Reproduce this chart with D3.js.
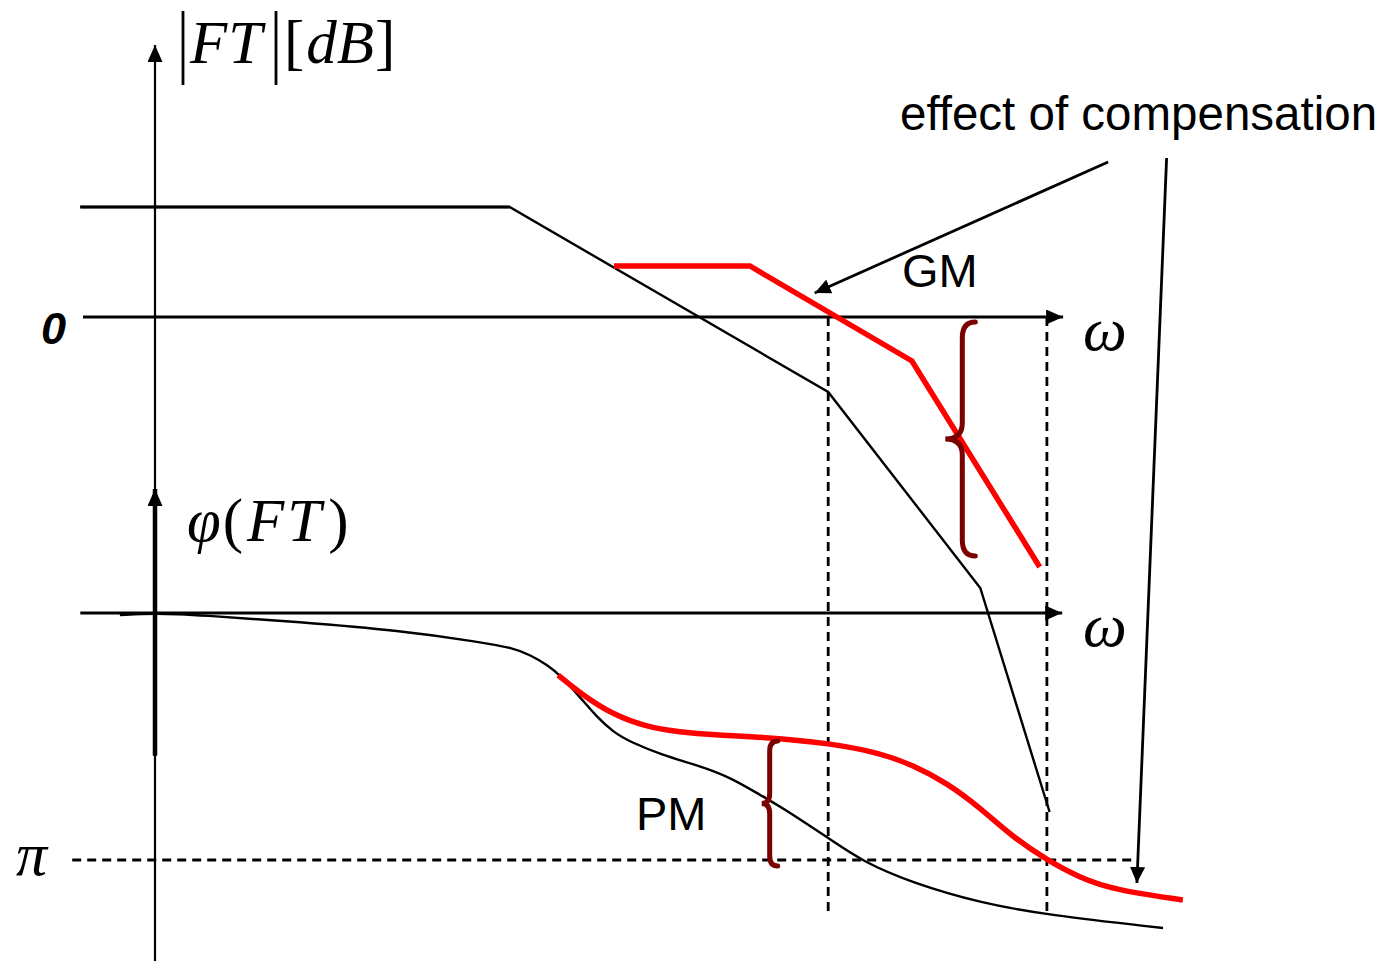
<!DOCTYPE html>
<html>
<head>
<meta charset="utf-8">
<script src="https://cdn.jsdelivr.net/npm/d3@7"></script>
<style>
  body { margin: 0; background: #fff; }
  svg { display: block; }
</style>
</head>
<body>
<div class="bode"></div>
<script>
// --- data (omega in arbitrary frequency units, magnitude in dB, phase in degrees) ---
var magOmega = [-8.3, 39.4, 74.8, 91.7, 99.4];
var magDb    = [11, 11, -7.5, -27.1, -49.5];

var compMagOmega = [51.0, 66.1, 84.1, 98.3];
var compMagDb    = [5.1, 5.1, -4.4, -25.0];

var phaseOmega = [-3.9, 0, 5, 16.1, 27.2, 36.1, 39.8, 41.7, 43.6, 45.0, 47.2, 49.1, 50.9, 52.8, 56.4, 60.2, 63.9, 67.6, 69.4, 74.8, 78.7, 84.2, 91.7, 99.1, 112];
var phaseDeg   = [-1.5, 0, -1.5, -6.6, -12.8, -21.1, -25.5, -30.6, -37.9, -45.2, -61.2, -75.8, -86.7, -94.0, -103.5, -110.8, -119.5, -134.1, -140.6, -163.9, -181.5, -196.8, -211.3, -220.1, -229.6];

var compPhaseOmega = [44.8, 47.2, 50.9, 54.7, 58.3, 62.0, 67.6, 74.8, 80.6, 84.2, 88.0, 91.7, 95.3, 99.1, 102.8, 106.6, 114.2];
var compPhaseDeg   = [-45.2, -58.3, -74.3, -83.1, -86.7, -88.9, -90.4, -94.7, -102.0, -110.8, -123.9, -142.1, -163.2, -180, -193.1, -201.8, -209.1];

var crossoverOmega = 74.8;   // gain crossover (|FT| = 0 dB)
var phaseCrossOmega = 99.1;  // phase crossover (phase = -180)

// --- layout ---
var width = 1395, height = 961;
var svg = d3.select(".bode").append("svg")
    .attr("width", width)
    .attr("height", height);

var x = d3.scaleLinear().domain([0, 100]).range([155, 1055]);
var yMag = d3.scaleLinear().domain([0, -10]).range([317, 417]);
var yPh = d3.scaleLinear().domain([0, -180]).range([613, 860]);

var darkRed = "#7b0000";

// arrow markers
var defs = svg.append("defs");
function marker(id, len, wid) {
  defs.append("marker")
      .attr("id", id)
      .attr("markerUnits", "userSpaceOnUse")
      .attr("viewBox", "0 0 " + len + " " + wid)
      .attr("refX", len).attr("refY", wid / 2)
      .attr("markerWidth", len).attr("markerHeight", wid)
      .attr("orient", "auto")
    .append("path")
      .attr("d", "M0,0L" + len + "," + (wid / 2) + "L0," + wid + "Z")
      .attr("fill", "#000");
}
marker("axisArrow", 17, 15);
marker("noteArrow", 16, 15);

// --- axes ---
// magnitude vertical axis (thin, runs the full height)
svg.append("line")
    .attr("x1", x(0)).attr("x2", x(0))
    .attr("y1", height).attr("y2", 45)
    .attr("stroke", "#000").attr("stroke-width", 2.2)
    .attr("marker-end", "url(#axisArrow)");
// phase vertical axis (thicker)
svg.append("line")
    .attr("x1", x(0)).attr("x2", x(0))
    .attr("y1", yPh(-104)).attr("y2", 489)
    .attr("stroke", "#000").attr("stroke-width", 4.5)
    .attr("marker-end", "url(#axisArrow)");

// 0 dB axis
svg.append("line")
    .attr("x1", x(-8)).attr("x2", x(100.9))
    .attr("y1", yMag(0)).attr("y2", yMag(0))
    .attr("stroke", "#000").attr("stroke-width", 2.8)
    .attr("marker-end", "url(#axisArrow)");
// phase 0 axis
svg.append("line")
    .attr("x1", x(-8.3)).attr("x2", x(100.8))
    .attr("y1", yPh(0)).attr("y2", yPh(0))
    .attr("stroke", "#000").attr("stroke-width", 2.8)
    .attr("marker-end", "url(#axisArrow)");

// dashed guides
var dash = "9,6";
svg.append("line")
    .attr("x1", x(-9.2)).attr("x2", x(108.9))
    .attr("y1", yPh(-180)).attr("y2", yPh(-180))
    .attr("stroke", "#000").attr("stroke-width", 2.8)
    .attr("stroke-dasharray", dash);
[crossoverOmega, phaseCrossOmega].forEach(function(w) {
  svg.append("line")
      .attr("x1", x(w)).attr("x2", x(w))
      .attr("y1", yMag(0)).attr("y2", yPh(-220))
      .attr("stroke", "#000").attr("stroke-width", 2.8)
      .attr("stroke-dasharray", dash);
});

// --- magnitude curves ---
var magLine = d3.line()
    .x(function(d) { return x(d[0]); })
    .y(function(d) { return yMag(d[1]); });

var magPts = d3.zip(magOmega, magDb);
svg.append("path")
    .attr("d", magLine(magPts))
    .attr("fill", "none").attr("stroke", "#000").attr("stroke-width", 2.4);
svg.append("path")
    .attr("d", magLine(magPts.slice(0, 2)))
    .attr("fill", "none").attr("stroke", "#000").attr("stroke-width", 3.2);

svg.append("path")
    .attr("d", magLine(d3.zip(compMagOmega, compMagDb)))
    .attr("fill", "none").attr("stroke", "#ff0000").attr("stroke-width", 5.5)
    .attr("stroke-linejoin", "miter");

// --- phase curves ---
var phLine = d3.line()
    .x(function(d) { return x(d[0]); })
    .y(function(d) { return yPh(d[1]); })
    .curve(d3.curveBasis);

svg.append("path")
    .attr("d", phLine(d3.zip(phaseOmega, phaseDeg)))
    .attr("fill", "none").attr("stroke", "#000").attr("stroke-width", 2.4);

svg.append("path")
    .attr("d", phLine(d3.zip(compPhaseOmega, compPhaseDeg)))
    .attr("fill", "none").attr("stroke", "#ff0000").attr("stroke-width", 5.5);

// --- braces (gain margin and phase margin) ---
function brace(px, yTop, yBot, tip, curl, r) {
  var yMid = (yTop + yBot) / 2;
  return "M" + (px + curl) + "," + yTop +
    "Q" + px + "," + yTop + " " + px + "," + (yTop + r) +
    "L" + px + "," + (yMid - r) +
    "Q" + px + "," + yMid + " " + (px - tip) + "," + yMid +
    "Q" + px + "," + yMid + " " + px + "," + (yMid + r) +
    "L" + px + "," + (yBot - r) +
    "Q" + px + "," + yBot + " " + (px + curl) + "," + yBot;
}
svg.append("path")
    .attr("d", brace(x(89.7), yMag(-0.5), yMag(-23.9), 17, 13, 16))
    .attr("fill", "none").attr("stroke", darkRed).attr("stroke-width", 5)
    .attr("stroke-linecap", "round");
svg.append("path")
    .attr("d", brace(x(68.3), yPh(-93.3), yPh(-184.4), 8, 8, 10))
    .attr("fill", "none").attr("stroke", darkRed).attr("stroke-width", 5)
    .attr("stroke-linecap", "round");

// --- annotation arrows ---
svg.append("line")
    .attr("x1", x(105.9)).attr("y1", yMag(15.5))
    .attr("x2", x(73.3)).attr("y2", yMag(2.4))
    .attr("stroke", "#000").attr("stroke-width", 2.8)
    .attr("marker-end", "url(#noteArrow)");
svg.append("line")
    .attr("x1", x(112.4)).attr("y1", yMag(15.9))
    .attr("x2", x(109.1)).attr("y2", yPh(-196.8))
    .attr("stroke", "#000").attr("stroke-width", 2.8)
    .attr("marker-end", "url(#noteArrow)");

// --- labels ---
var serif = "'Liberation Serif', 'Times New Roman', serif";
var sans = "'Liberation Sans', Arial, sans-serif";

// |FT| [dB]
[183, 276].forEach(function(bx) {
  svg.append("line")
      .attr("x1", bx).attr("x2", bx).attr("y1", 11).attr("y2", 85)
      .attr("stroke", "#000").attr("stroke-width", 2.8);
});
svg.append("text")
    .attr("x", 190).attr("y", 63)
    .attr("font-family", serif).attr("font-size", 61).attr("font-style", "italic")
    .attr("letter-spacing", 1)
    .text("FT");
var db = svg.append("text")
    .attr("x", 284).attr("y", 63)
    .attr("font-family", serif).attr("font-size", 61);
db.append("tspan").text("[");
db.append("tspan").attr("font-style", "italic").attr("dx", 2).text("dB");
db.append("tspan").attr("dx", 1).text("]");

// phi(FT)
var phi = svg.append("text")
    .attr("x", 187).attr("y", 541)
    .attr("font-family", serif).attr("font-size", 61);
phi.append("tspan").attr("font-style", "italic").text("φ");
phi.append("tspan").attr("dx", 2).text("(");
phi.append("tspan").attr("font-style", "italic").attr("dx", 4).attr("letter-spacing", 3).text("FT");
phi.append("tspan").attr("dx", 4).text(")");

// omega labels
[yMag(0), yPh(0)].forEach(function(yy) {
  svg.append("text")
      .attr("x", 1083).attr("y", yy + 33)
      .attr("font-family", serif).attr("font-size", 62).attr("font-style", "italic")
      .text("ω");
});

svg.append("text")
    .attr("x", 41).attr("y", yMag(0) + 27)
    .attr("font-family", sans).attr("font-size", 45)
    .attr("font-weight", "bold").attr("font-style", "italic")
    .text("0");

svg.append("text")
    .attr("x", 16).attr("y", yPh(-180) + 15)
    .attr("font-family", serif).attr("font-size", 62).attr("font-style", "italic")
    .text("π");

svg.append("text")
    .attr("x", 902).attr("y", 287)
    .attr("font-family", sans).attr("font-size", 47)
    .text("GM");

svg.append("text")
    .attr("x", 636).attr("y", 830)
    .attr("font-family", sans).attr("font-size", 47)
    .text("PM");

svg.append("text")
    .attr("x", 900).attr("y", 130)
    .attr("font-family", sans).attr("font-size", 47.5)
    .text("effect of compensation");
</script>
</body>
</html>
